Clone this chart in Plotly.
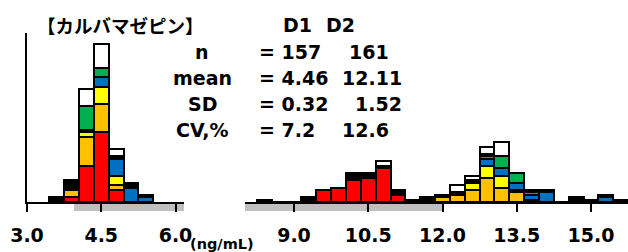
import plotly.graph_objects as go

W, H = 628, 252

# ---- data ----
title_text = "【カルバマゼピン】"
unit_text = "(ng/mL)"
colors = ["#FF0000", "#FFC000", "#FFFF00", "#0070C0", "#00B050", "#000000", "#FFFFFF"]

d1_bins = [3.6, 3.9, 4.2, 4.5, 4.8, 5.1, 5.4]
d1_red    = [1, 2, 15, 29, 5, 0, 0]
d1_orange = [0, 3, 12, 12, 2, 0, 0]
d1_yellow = [0, 0, 2, 7, 4, 0, 0]
d1_blue   = [0, 0, 1, 4, 7, 6, 2]
d1_green  = [0, 0, 10, 4, 0, 0, 0]
d1_black  = [1, 4, 0, 0, 1, 2, 1]
d1_white  = [0, 0, 7, 10, 3, 0, 0]

d2_bins = [8.4, 8.7, 9.0, 9.3, 9.6, 9.9, 10.2, 10.5, 10.8, 11.1, 11.4, 11.7,
           12.0, 12.3, 12.6, 12.9, 13.2, 13.5, 13.8, 14.1, 14.4, 14.7, 15.0, 15.3, 15.6]
d2_red    = [0, 0, 0, 1, 5, 6, 9, 10, 14, 3, 0, 0, 0, 0, 0, 0, 0, 0, 0, 0, 0, 0, 0, 0, 0]
d2_orange = [0, 0, 0, 0, 0, 0, 0, 0, 0, 0, 0, 0, 2, 3, 5, 10, 6, 4, 1, 0, 0, 0, 0, 0, 0]
d2_yellow = [0, 0, 0, 0, 0, 0, 0, 0, 0, 0, 0, 0, 0, 0, 3, 5, 5, 1, 0, 0, 0, 0, 0, 0, 0]
d2_blue   = [0, 0, 0, 0, 0, 0, 0, 0, 0, 0, 0, 0, 0, 0, 0, 3, 3, 3, 2, 4, 0, 0, 0, 2, 0]
d2_green  = [0, 0, 0, 0, 0, 0, 0, 0, 0, 0, 0, 0, 0, 0, 0, 1, 5, 4, 1, 0, 0, 0, 0, 0, 0]
d2_black  = [1, 0, 0, 1, 0, 0, 3, 2, 1, 2, 1, 2, 1, 1, 1, 1, 0, 0, 1, 1, 0, 2, 1, 1, 1]
d2_white  = [0, 0, 0, 0, 0, 0, 0, 0, 2, 0, 0, 0, 0, 3, 2, 3, 6, 0, 0, 0, 0, 0, 0, 0, 0]

left_ticks = [3.0, 4.5, 6.0]
left_ticktext = ["3.0", "4.5", "6.0"]
right_ticks = [9.0, 10.5, 12.0, 13.5, 15.0]
right_ticktext = ["9.0", "10.5", "12.0", "13.5", "15.0"]
range_low, range_high = 3.95, 12.0  # grey reference band

stat_labels = ["n", "mean", "SD", "CV,%"]
stat_d1 = ["= 157", "= 4.46", "= 0.32", "= 7.2"]
stat_d2 = ["161", "12.11", "1.52", "12.6"]
headers = ["D1", "D2"]

# ---- figure ----
FONT = "DejaVu Sans"
fig = go.Figure()
d1_series = [d1_red, d1_orange, d1_yellow, d1_blue, d1_green, d1_black, d1_white]
d2_series = [d2_red, d2_orange, d2_yellow, d2_blue, d2_green, d2_black, d2_white]
for c, s in zip(colors, d1_series):
    fig.add_bar(x=d1_bins, y=s, width=0.3, marker=dict(color=c, line=dict(color="black", width=2)),
                xaxis="x", yaxis="y", showlegend=False, hoverinfo="skip")
for c, s in zip(colors, d2_series):
    fig.add_bar(x=d2_bins, y=s, width=0.3, marker=dict(color=c, line=dict(color="black", width=2)),
                xaxis="x2", yaxis="y", showlegend=False, hoverinfo="skip")

def px(x):
    return x / W

def py(y):
    return (H - y) / H

base_y = 202
top_y = 33
ppc = 2.4
xl0, xl1 = 27, 184
xr0, xr1 = 245, 628
scale = 49.5

axis_common = dict(showline=True, linecolor="black", linewidth=2, ticks="outside", ticklen=8,
                   tickwidth=2, tickcolor="black", showgrid=False, zeroline=False, automargin=False,
                   tickfont=dict(family=FONT, size=19, color="black", weight="bold"), ticklabelstandoff=7)
fig.update_layout(
    width=W, height=H, margin=dict(l=0, r=0, t=0, b=0, pad=0, autoexpand=False), autosize=False,
    paper_bgcolor="white", plot_bgcolor="white", barmode="stack", bargap=0,
    xaxis=dict(domain=[px(xl0), px(xl1)], range=[3.0, 3.0 + (xl1 - xl0) / scale],
               tickvals=left_ticks, ticktext=left_ticktext, anchor="y", **axis_common),
    xaxis2=dict(domain=[px(xr0), px(xr1)], range=[9.0 - (294 - xr0) / scale, 9.0 + (xr1 - 294) / scale],
                tickvals=right_ticks, ticktext=right_ticktext, anchor="y", **axis_common),
    yaxis=dict(domain=[py(base_y), py(top_y)], range=[0, (base_y - top_y) / ppc],
               showline=True, linecolor="black", linewidth=2, showticklabels=False, automargin=False,
               ticks="", showgrid=False, zeroline=False, anchor="x"),
)

# grey reference band below axes
for xref, x0, x1 in [("x", range_low, 3.0 + (xl1 - xl0) / scale), ("x2", 9.0 - (294 - xr0) / scale, range_high)]:
    fig.add_shape(type="rect", xref=xref, yref="paper", x0=x0, x1=x1, y0=py(211), y1=py(203),
                  fillcolor="#BFBFBF", line=dict(width=0), layer="below")

ann_font = dict(family=FONT, size=19, color="black", weight="bold")
fig.add_annotation(text=title_text, x=px(35), y=py(25), xref="paper", yref="paper",
                   xanchor="left", yanchor="middle", showarrow=False,
                   font=dict(family="Noto Sans CJK JP", size=18.5, color="black", weight="bold"))
fig.add_annotation(text=unit_text, x=px(222), y=py(244), xref="paper", yref="paper",
                   xanchor="center", yanchor="middle", showarrow=False,
                   font=dict(family=FONT, size=14.5, color="black", weight="bold"))
fig.add_annotation(text=headers[0], x=px(297), y=py(25), xref="paper", yref="paper",
                   xanchor="center", yanchor="middle", showarrow=False, font=ann_font)
fig.add_annotation(text=headers[1], x=px(340), y=py(25), xref="paper", yref="paper",
                   xanchor="center", yanchor="middle", showarrow=False, font=ann_font)
# second column aligned on the decimal point
d2_right = [391, 404, 404, 391]
for i, (lab, a, b) in enumerate(zip(stat_labels, stat_d1, stat_d2)):
    yy = py(52 + 26 * i)
    fig.add_annotation(text=lab, x=px(202), y=yy, xref="paper", yref="paper",
                       xanchor="center", yanchor="middle", showarrow=False, font=ann_font)
    fig.add_annotation(text=a, x=px(257), y=yy, xref="paper", yref="paper",
                       xanchor="left", yanchor="middle", showarrow=False, font=ann_font)
    fig.add_annotation(text=b, x=px(d2_right[i]), y=yy, xref="paper", yref="paper",
                       xanchor="right", yanchor="middle", showarrow=False, font=ann_font)

fig.write_html("out.html", config={"displayModeBar": False, "staticPlot": True},
               post_script="document.body.style.margin='0';document.body.style.overflow='hidden';")
